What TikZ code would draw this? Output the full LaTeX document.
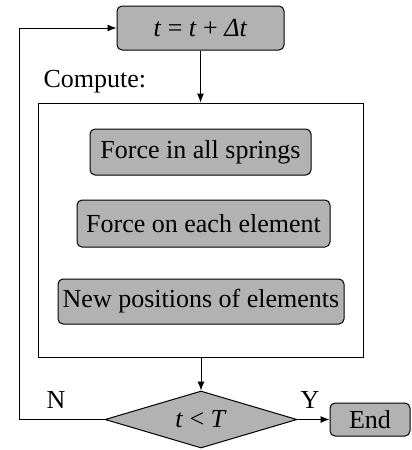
\documentclass[tikz,border=0pt]{standalone}
\usepackage{fontspec}
\setmainfont{Liberation Serif}
\usetikzlibrary{shapes.geometric,arrows.meta}
\begin{document}
\begin{tikzpicture}[x=1pt,y=-1pt,
  every node/.style={font=\fontsize{26}{31}\selectfont},
  graybox/.style={draw, line width=1pt, fill=black!30, rounded corners=5pt, inner sep=0pt},
  conn/.style={line width=0.9pt},
  arr/.style={conn, -{Latex[length=9pt,width=7pt]}}]
\useasboundingbox (0,0) rectangle (412,450);
\node[graybox, minimum width=167pt, minimum height=44pt] (top) at (200.5,28) {\textit{t} = \textit{t} + \textit{Δt}};
\node[anchor=base west] (lbl) at (40,87) {Compute:};
\node[draw, line width=0.9pt, minimum width=325pt, minimum height=254pt, inner sep=0pt] (comp) at (200.5,230) {};
\node[graybox, minimum width=221pt, minimum height=46pt] (f1) at (200.5,152) {Force in all springs};
\node[graybox, minimum width=253pt, minimum height=47pt] (f2) at (203.5,223.5) {Force on each element};
\node[graybox, minimum width=286pt, minimum height=45pt] (f3) at (201,301.5) {New positions of elements};
\node[draw, line width=1pt, fill=black!30, diamond, aspect=3.37, inner sep=0pt, minimum width=192pt, minimum height=57pt] (cond) at (201,419.5) {\textit{t} < \textit{T}};
\node[graybox, minimum width=80pt, minimum height=33pt] (end) at (370,419.5) {End};
\node (n) at (56,400) {N};
\node (y) at (310,400) {Y};
\coordinate (corner) at (19,419.5);
\draw[arr] (top.south) -- (top.south |- comp.north);
\draw[arr] (cond.north |- comp.south) -- (cond.north);
\draw[arr] (cond.east) -- (end.west);
\draw[arr] (cond.west) -- (corner) |- (top.west);
\end{tikzpicture}
\end{document}
